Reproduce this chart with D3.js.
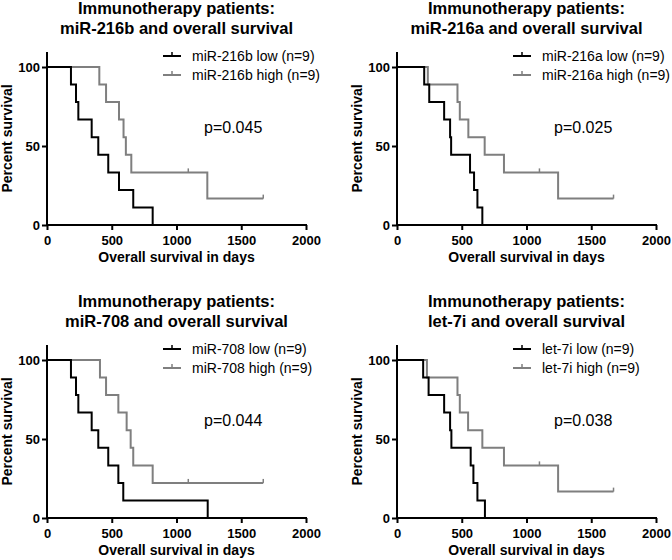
<!DOCTYPE html>
<html>
<head>
<meta charset="utf-8">
<script src="https://cdn.jsdelivr.net/npm/d3@7/dist/d3.min.js"></script>
<style>
  html, body { margin: 0; padding: 0; background: #fff; }
  svg { display: block; }
  text { font-family: "Liberation Sans", Arial, Helvetica, sans-serif; }
</style>
</head>
<body>
<svg id="chart" width="672" height="560"></svg>
<script>
// ---------- data ----------
const titleLine1 = "Immunotherapy patients:";
const markers = ["miR-216b", "miR-216a", "miR-708", "let-7i"];
const pValues = ["p=0.045", "p=0.025", "p=0.044", "p=0.038"];
const groupSuffix = ["low (n=9)", "high (n=9)"];
const xTicks = [0, 500, 1000, 1500, 2000];
const yTicks = [0, 50, 100];

// survival step points (days, percent survival)
const lowTimes = [
  [0, 185, 224, 242, 345, 396, 473, 556, 666, 816],
  [0, 210, 249, 364, 410, 418, 564, 595, 621, 659],
  [0, 185, 224, 242, 345, 396, 473, 551, 589, 1241],
  [0, 202, 244, 364, 410, 420, 569, 590, 621, 679]
];
const lowSurv = [
  [100, 88.9, 77.8, 66.7, 55.6, 44.4, 33.3, 22.2, 11.1, 0],
  [100, 88.9, 77.8, 66.7, 55.6, 44.4, 33.3, 22.2, 11.1, 0],
  [100, 88.9, 77.8, 66.7, 55.6, 44.4, 33.3, 22.2, 11.1, 0],
  [100, 88.9, 77.8, 66.7, 55.6, 44.4, 33.3, 22.2, 11.1, 0]
];
const highTimes = [
  [0, 404, 456, 556, 591, 609, 651, 1238, 1670],
  [0, 238, 467, 485, 551, 677, 826, 1244, 1672],
  [0, 409, 456, 551, 615, 646, 666, 816, 1670],
  [0, 231, 467, 485, 549, 659, 826, 1244, 1672]
];
const highSurv = [
  [100, 88.9, 77.8, 66.7, 55.6, 44.4, 33.3, 16.7, 16.7],
  [100, 88.9, 77.8, 66.7, 55.6, 44.4, 33.3, 16.7, 16.7],
  [100, 88.9, 77.8, 66.7, 55.6, 44.4, 33.3, 22.2, 22.2],
  [100, 88.9, 77.8, 66.7, 55.6, 44.4, 33.3, 16.7, 16.7]
];
// censored observations (days, percent)
const highCensorTimes = [[1091, 1670], [1100, 1672], [1091, 1670], [1100, 1672]];
const highCensorSurv = [[33.3, 16.7], [33.3, 16.7], [22.2, 22.2], [33.3, 16.7]];

// ---------- layout ----------
const panelOffsets = [[0, 0], [350, 0], [0, 293], [350, 293]];
const plotLeft = 47, plotRight = 306, plotTop = 52, plotBottom = 225;
const colLow = "#000000", colHigh = "#7f7f7f";

const svg = d3.select("#chart");

markers.forEach((m, i) => {
  const [ox, oy] = panelOffsets[i];
  const g = svg.append("g").attr("transform", `translate(${ox},${oy})`);

  const x = d3.scaleLinear().domain([0, 2000]).range([plotLeft, plotRight]);
  const y = d3.scaleLinear().domain([0, 109.5]).range([plotBottom, plotTop]);

  // titles
  const cx = (plotLeft + plotRight) / 2;
  g.append("text").attr("x", cx).attr("y", 14).attr("text-anchor", "middle")
    .style("font-size", "16.5px").style("font-weight", "bold").text(titleLine1);
  g.append("text").attr("x", cx).attr("y", 34).attr("text-anchor", "middle")
    .style("font-size", "16.5px").style("font-weight", "bold")
    .text(`${m} and overall survival`);

  // axes
  const xAxis = d3.axisBottom(x).tickValues(xTicks).tickFormat(d3.format("d"))
    .tickSize(5).tickPadding(3);
  const gx = g.append("g").attr("transform", `translate(0,${plotBottom})`).call(xAxis);
  const yAxis = d3.axisLeft(y).tickValues(yTicks).tickFormat(d3.format("d"))
    .tickSize(5).tickPadding(2);
  const gy = g.append("g").attr("transform", `translate(${plotLeft},0)`).call(yAxis);
  [gx, gy].forEach(a => {
    a.select(".domain").remove();
    a.selectAll(".tick line").attr("stroke", "#000").attr("stroke-width", 2);
    a.selectAll(".tick text").style("font-size", "13px").style("font-weight", "bold")
      .attr("fill", "#000").style("font-family", '"Liberation Sans", Arial, sans-serif');
  });
  gx.selectAll(".tick text").attr("dy", "0.9em");
  g.append("line").attr("x1", x(0)).attr("x2", x(2000)).attr("y1", y(0)).attr("y2", y(0))
    .attr("stroke", "#000").attr("stroke-width", 2).attr("stroke-linecap", "square");
  g.append("line").attr("x1", x(0)).attr("x2", x(0)).attr("y1", y(0)).attr("y2", plotTop)
    .attr("stroke", "#000").attr("stroke-width", 2);

  // axis labels
  g.append("text").attr("x", cx).attr("y", 262).attr("text-anchor", "middle")
    .style("font-size", "14px").style("font-weight", "bold").text("Overall survival in days");
  g.append("text").attr("transform", `translate(12,${(plotTop + plotBottom) / 2}) rotate(-90)`)
    .attr("text-anchor", "middle").style("font-size", "14px").style("font-weight", "bold")
    .text("Percent survival");

  // curves
  const line = d3.line().x(d => x(d[0])).y(d => y(d[1])).curve(d3.curveStepAfter);
  const lowData = d3.zip(lowTimes[i], lowSurv[i]);
  const highData = d3.zip(highTimes[i], highSurv[i]);
  g.append("path").datum(highData).attr("d", line).attr("fill", "none")
    .attr("stroke", colHigh).attr("stroke-width", 2);
  g.append("path").datum(lowData).attr("d", line).attr("fill", "none")
    .attr("stroke", colLow).attr("stroke-width", 2);
  g.selectAll(".censor").data(d3.zip(highCensorTimes[i], highCensorSurv[i])).enter()
    .append("line").attr("class", "censor")
    .attr("x1", d => x(d[0])).attr("x2", d => x(d[0]))
    .attr("y1", d => y(d[1])).attr("y2", d => y(d[1]) - 4)
    .attr("stroke", colHigh).attr("stroke-width", 1.5);

  // legend
  const legItems = [[`${m} ${groupSuffix[0]}`, colLow], [`${m} ${groupSuffix[1]}`, colHigh]];
  legItems.forEach((it, k) => {
    const ly = 56 + k * 19;
    g.append("line").attr("x1", 163).attr("x2", 181).attr("y1", ly).attr("y2", ly)
      .attr("stroke", it[1]).attr("stroke-width", 2);
    g.append("line").attr("x1", 172).attr("x2", 172).attr("y1", ly).attr("y2", ly - 4)
      .attr("stroke", it[1]).attr("stroke-width", 1.5);
    g.append("text").attr("x", 192).attr("y", ly + 5).style("font-size", "14px")
      .attr("fill", "#000").text(it[0]);
  });

  // p-value
  g.append("text").attr("x", 204).attr("y", 133).style("font-size", "16px")
    .attr("fill", "#000").text(pValues[i]);
});
</script>
</body>
</html>
